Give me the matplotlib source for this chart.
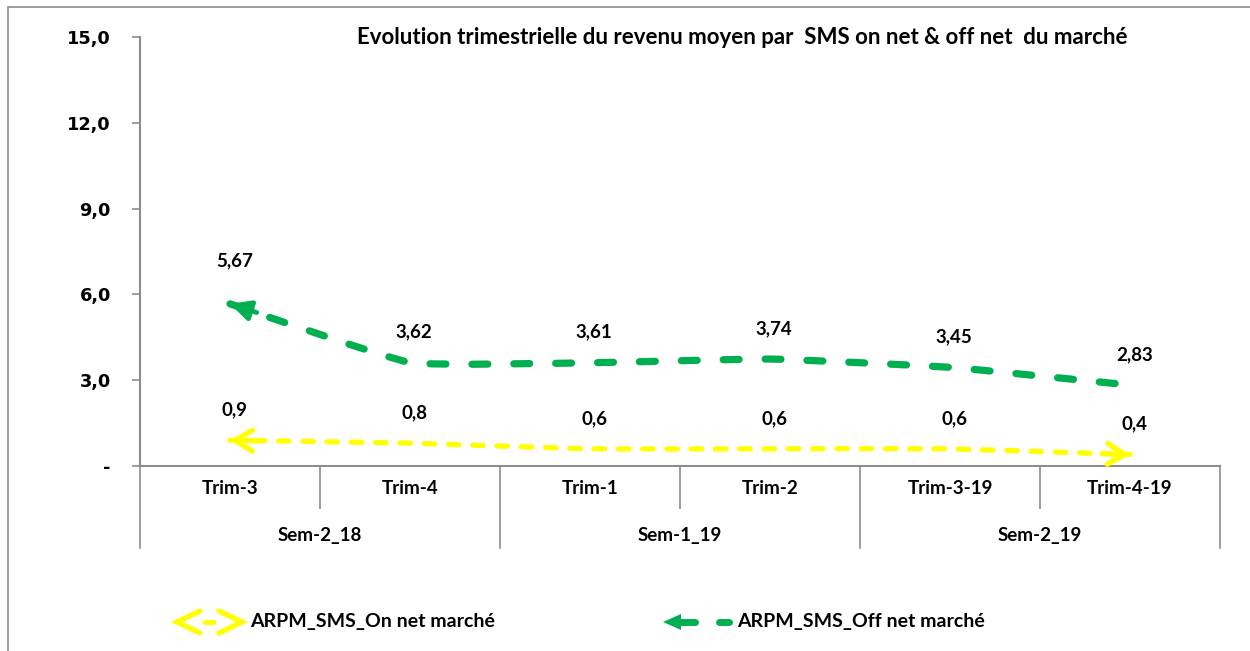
import matplotlib
matplotlib.use("Agg")
import matplotlib.pyplot as plt
import numpy as np
from matplotlib.path import Path
from matplotlib.patches import PathPatch, Rectangle, Polygon
from matplotlib.lines import Line2D
import matplotlib.transforms as mtransforms

trims = ["Trim-3", "Trim-4", "Trim-1", "Trim-2", "Trim-3-19", "Trim-4-19"]
semesters = ["Sem-2_18", "Sem-1_19", "Sem-2_19"]
on_net = [0.9, 0.8, 0.6, 0.6, 0.6, 0.4]
off_net = [5.67, 3.62, 3.61, 3.74, 3.45, 2.83]
on_labels = ["0,9", "0,8", "0,6", "0,6", "0,6", "0,4"]
off_labels = ["5,67", "3,62", "3,61", "3,74", "3,45", "2,83"]
yticks = [0, 3, 6, 9, 12, 15]
ytick_labels = ["-", "3,0", "6,0", "9,0", "12,0", "15,0"]

GREEN = "#00B050"
YELLOW = "#FFFF00"
GRAY = "#8C8C8C"
FONT = "Lato"

plt.rcParams["font.family"] = [FONT, "DejaVu Sans"]

W, H = 1250, 651
fig = plt.figure(figsize=(12.5, 6.51), dpi=100)
ax = fig.add_axes([140 / W, 1 - 466 / H, 1080 / W, 429 / H])
# figure pixel transform (origin top-left)
px = mtransforms.Affine2D().scale(1 / W, -1 / H).translate(0, 1) + fig.transFigure

# outer frame
fig.patches.append(Rectangle((8 / W, -0.05), 1.2, 1 - 7 / H + 0.05,
                             transform=fig.transFigure, fill=False,
                             edgecolor=GRAY, lw=1.2))


def smooth_path(xs, ys, k=16):
    # smoothed line, light tension
    pts = np.column_stack([xs, ys]).astype(float)
    ext = np.vstack([pts[0], pts, pts[-1]])
    verts = [pts[0]]
    codes = [Path.MOVETO]
    for i in range(len(pts) - 1):
        p0, p1, p2, p3 = ext[i], ext[i + 1], ext[i + 2], ext[i + 3]
        c1 = p1 + (p2 - p0) / k
        c2 = p2 - (p3 - p1) / k
        verts += [c1, c2, p2]
        codes += [Path.CURVE4] * 3
    return Path(verts, codes)


x = np.arange(len(trims))

ax.add_patch(PathPatch(smooth_path(x, off_net), fill=False, edgecolor=GREEN,
                       lw=5.2, linestyle=(0, (2.2, 3.6)), capstyle="round",
                       zorder=3))
ax.add_patch(PathPatch(smooth_path(x, on_net), fill=False, edgecolor=YELLOW,
                       lw=3.8, linestyle=(0, (2.0, 2.6)), capstyle="round",
                       zorder=3))

ax.set_xlim(-0.5, len(trims) - 0.5)
ax.set_ylim(0, 15)
fig.canvas.draw()


def head(tip, toward, style, color, lw, length):
    a = ax.transData.transform(tip)
    b = ax.transData.transform(toward)
    u = (b - a) / np.hypot(*(b - a))
    off = u * length
    ax.annotate("", xy=tip, xycoords="data",
                xytext=(off[0], off[1]), textcoords="offset pixels",
                arrowprops=dict(arrowstyle=style, color=color, lw=lw,
                                shrinkA=0, shrinkB=0, capstyle="round"),
                zorder=4)


# green arrow at start (filled)
head((x[0], off_net[0]), (x[1], off_net[1]),
     "-|>,head_length=1.2,head_width=0.6", GREEN, 3.5, 28)
# yellow open arrows at both ends
head((x[0], on_net[0]), (x[1], on_net[1]),
     "->,head_length=1.25,head_width=0.75", YELLOW, 3.8, 28)
head((x[-1], on_net[-1]), (x[-2], on_net[-2]),
     "->,head_length=1.25,head_width=0.75", YELLOW, 3.8, 28)

# data labels
LBL = dict(ha="center", va="center", fontsize=13.5, fontweight="bold")
for i, (v, lab) in enumerate(zip(off_net, off_labels)):
    dy = 31 if i == 0 else 22
    ax.annotate(lab, (x[i], v), xytext=(3, dy), textcoords="offset points",
                **LBL)
for i, (v, lab) in enumerate(zip(on_net, on_labels)):
    ax.annotate(lab, (x[i], v), xytext=(3, 22), textcoords="offset points",
                **LBL)

# axes styling
for s in ["top", "right"]:
    ax.spines[s].set_visible(False)
ax.spines["left"].set_color(GRAY)
ax.spines["bottom"].set_color(GRAY)
ax.spines["left"].set_linewidth(1.5)
ax.spines["bottom"].set_linewidth(1.5)
ax.spines["left"].set_bounds(0, 15)
ax.set_yticks(yticks)
ax.set_yticklabels(ytick_labels, family="DejaVu Sans", fontweight="bold",
                   fontsize=12.8)
ax.tick_params(axis="y", length=6, width=1.2, color=GRAY, pad=15)
ax.set_xticks([])

# multi-level category axis
trans = mtransforms.blended_transform_factory(ax.transData, ax.transAxes)
axis_h = 429
for b in np.arange(-0.5, len(trims), 1.0):
    k = int(b + 0.5)
    low = -82 / axis_h if k % 2 == 0 else -42 / axis_h
    ax.add_line(Line2D([b, b], [0, low], transform=trans, color=GRAY,
                       lw=1.2, clip_on=False))
for i, t in enumerate(trims):
    ax.text(x[i], -22 / axis_h, t, transform=trans, ha="center", va="center",
            fontsize=13.5, fontweight="bold")
for j, s in enumerate(semesters):
    ax.text(2 * j + 0.5, -69 / axis_h, s, transform=trans, ha="center",
            va="center", fontsize=13.5, fontweight="bold")

# title
fig.text(742 / W, 1 - 37 / H,
         "Evolution trimestrielle du revenu moyen par  SMS on net & off net  du marché",
         ha="center", va="center", fontsize=16, fontweight="bold")

# legend (drawn by hand to mimic arrow symbols)
ly = 622
for xs in ([200, 177, 200], [219, 242, 219]):
    fig.lines.append(Line2D(xs, [ly - 11, ly, ly + 11], transform=px,
                            color=YELLOW, lw=3.8, solid_capstyle="round",
                            solid_joinstyle="miter"))
fig.lines.append(Line2D([205, 213], [ly, ly], transform=px, color=YELLOW,
                        lw=3.8, solid_capstyle="round"))
fig.text(250 / W, 1 - ly / H, "ARPM_SMS_On net marché", ha="left",
         va="center", fontsize=14, fontweight="bold")

fig.patches.append(Polygon([[663, ly], [681, ly - 8], [681, ly + 8]],
                           closed=True, transform=px, color=GREEN, lw=0))
fig.lines.append(Line2D([679, 695], [ly, ly], transform=px, color=GREEN,
                        lw=5, solid_capstyle="round"))
fig.lines.append(Line2D([719, 729], [ly, ly], transform=px, color=GREEN,
                        lw=5, solid_capstyle="round"))
fig.text(737 / W, 1 - ly / H, "ARPM_SMS_Off net marché", ha="left",
         va="center", fontsize=14, fontweight="bold")

fig.savefig("out.png", dpi=100)
